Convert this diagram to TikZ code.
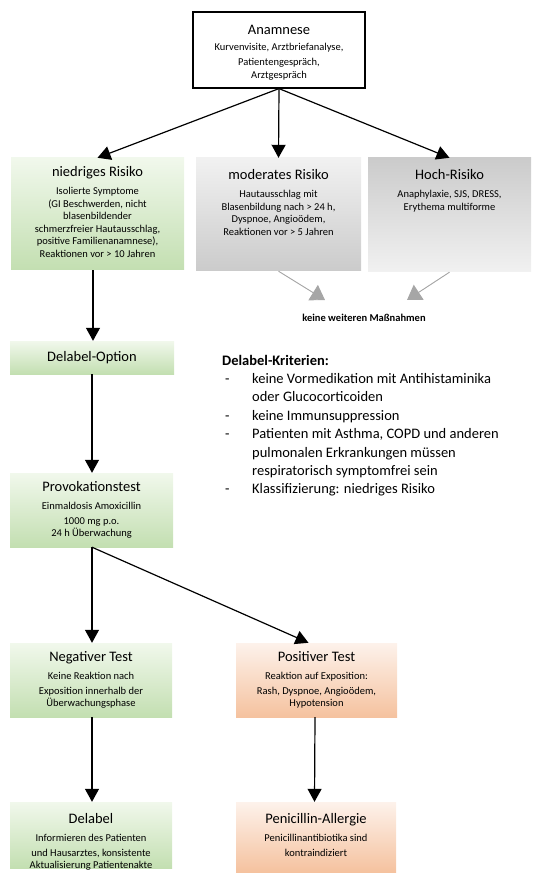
\documentclass[tikz,border=0pt]{standalone}
\usepackage{fontspec}
\setmainfont{Carlito}
\usetikzlibrary{arrows.meta}

\definecolor{gruenoben}{HTML}{F1F8EC}
\definecolor{gruenunten}{HTML}{C3DFB1}
\definecolor{grauhell}{HTML}{F1F1F1}
\definecolor{graudunkel}{HTML}{CBCBCB}
\definecolor{orangeoben}{HTML}{FDF2EB}
\definecolor{orangeunten}{HTML}{F5C29F}
\definecolor{pfeilgrau}{HTML}{A6A6A6}

\newcommand{\kopf}[1]{{\fontsize{14.5}{16}\selectfont #1}}

\tikzset{
  kasten/.style={rectangle, inner sep=0pt},
  gruen/.style={kasten, top color=gruenoben, bottom color=gruenunten},
  grau/.style={kasten, top color=grauhell, bottom color=graudunkel},
  grauum/.style={kasten, top color=graudunkel, bottom color=grauhell},
  orange/.style={kasten, top color=orangeoben, bottom color=orangeunten},
  inhalt/.style={anchor=north, align=center, inner sep=0pt, yshift=-8pt,
    font=\fontsize{10.5}{12.5}\selectfont},
  pfeil/.style={-{Triangle[width=14pt,length=13pt]}, line width=1.2pt},
  grauerpfeil/.style={-{Triangle[width=18pt,length=14pt]}, line width=0.9pt, draw=pfeilgrau, fill=pfeilgrau}
}

\begin{document}
\begin{tikzpicture}[x=1pt, y=-1pt]
  \useasboundingbox (0,0) rectangle (532,874);

  % Anamnese
  \node[kasten, draw, line width=1.2pt, fill=white, minimum width=172pt, minimum height=76pt] (anam) at (279,50) {};
  \node[inhalt, yshift=-6pt] (anamtxt) at (anam.north)
    {\kopf{Anamnese}\\[3pt] Kurvenvisite, Arztbriefanalyse,\\[3pt] Patientengespräch,\\ Arztgespräch};

  % Risikostufen
  \node[gruen, minimum width=173pt, minimum height=112pt] (niedrig) at (97.5,214) {};
  \node[inhalt] (niedrigtxt) at (niedrig.north)
    {\kopf{niedriges Risiko}\\[6pt] Isolierte Symptome\\ (GI Beschwerden, nicht\\ blasenbildender\\
     schmerzfreier Hautausschlag,\\ positive Familienanamnese),\\ Reaktionen vor > 10 Jahren};
  \node[grau, minimum width=165pt, minimum height=113pt] (moderat) at (278.5,214.5) {};
  \node[inhalt, yshift=-3pt] (moderattxt) at (moderat.north)
    {\kopf{moderates Risiko}\\[6pt] Hautausschlag mit\\ Blasenbildung nach > 24 h,\\ Dyspnoe, Angioödem,\\ Reaktionen vor > 5 Jahren};
  \node[grauum, minimum width=163pt, minimum height=114pt] (hoch) at (449.5,215) {};
  \node[inhalt, yshift=-3pt] (hochtxt) at (hoch.north)
    {\kopf{Hoch-Risiko}\\[6pt] Anaphylaxie, SJS, DRESS,\\ Erythema multiforme};

  \draw[pfeil] (anam.south) -- (niedrig.north);
  \draw[pfeil] (anam.south) -- (moderat.north);
  \draw[pfeil] (anam.south) -- (hoch.north);

  % keine weiteren Massnahmen
  \node[font=\bfseries\fontsize{10.5}{12}\selectfont, inner sep=0pt] (keine) at (364,318) {keine weiteren Maßnahmen};
  \coordinate (keinel) at (325,300);
  \coordinate (keiner) at (407,300);
  \draw[grauerpfeil] (moderat.south) -- (keinel);
  \draw[grauerpfeil] (hoch.south) -- (keiner);

  % Kriterien
  \node[anchor=north west, inner sep=0pt, align=left, font=\fontsize{14.5}{18.4}\selectfont] (kriterien) at (222,352)
    {\begin{tabular}{@{\hspace{3pt}}p{27pt}@{}l@{}}
      \multicolumn{2}{@{}l}{\bfseries Delabel-Kriterien:}\\
      - & keine Vormedikation mit Antihistaminika\\
        & oder Glucocorticoiden\\
      - & keine Immunsuppression\\
      - & Patienten mit Asthma, COPD und anderen\\
        & pulmonalen Erkrankungen müssen\\
        & respiratorisch symptomfrei sein\\
      - & Klassifizierung: niedriges Risiko
    \end{tabular}};

  % Ablauf
  \node[gruen, minimum width=164pt, minimum height=33pt] (delopt) at (92,357.5) {\kopf{Delabel-Option}};
  \node[gruen, minimum width=163pt, minimum height=74pt] (provo) at (91.5,510) {};
  \node[inhalt] (provotxt) at (provo.north)
    {\kopf{Provokationstest}\\[6pt] Einmaldosis Amoxicillin\\[2pt] 1000 mg p.o.\\ 24 h Überwachung};

  \draw[pfeil] (delopt.north |- niedrig.south) ++(1,0) -- ([xshift=1pt]delopt.north);
  \draw[pfeil] (delopt.south) -- (provo.north -| delopt.south);

  \node[gruen, minimum width=162pt, minimum height=74pt] (neg) at (91,680) {};
  \node[inhalt] (negtxt) at (neg.north)
    {\kopf{Negativer Test}\\[6pt] Keine Reaktion nach\\[2pt] Exposition innerhalb der\\ Überwachungsphase};
  \node[orange, minimum width=161pt, minimum height=74pt] (pos) at (316.5,680) {};
  \node[inhalt] (postxt) at (pos.north)
    {\kopf{Positiver Test}\\[6pt] Reaktion auf Exposition:\\[2pt] Rash, Dyspnoe, Angioödem,\\ Hypotension};

  \draw[pfeil] (provo.south -| delopt.south) -- (neg.north -| delopt.south);
  \draw[pfeil] (provo.south -| delopt.south) -- ([xshift=-8pt]pos.north);

  \node[gruen, minimum width=162pt, minimum height=66pt] (delabel) at (91,835) {};
  \node[inhalt, yshift=-3pt] (delabeltxt) at (delabel.north)
    {\kopf{Delabel}\\[6pt] Informieren des Patienten\\[2pt] und Hausarztes, konsistente\\ Aktualisierung Patientenakte};
  \node[orange, minimum width=160pt, minimum height=70pt] (allergie) at (316,837) {};
  \node[inhalt, yshift=-3pt] (allergietxt) at (allergie.north)
    {\kopf{Penicillin-Allergie}\\[6pt] Penicillinantibiotika sind\\[2pt] kontraindiziert};

  \draw[pfeil] (neg.south -| delopt.south) -- (delabel.north -| delopt.south);
  \draw[pfeil] ([xshift=-1.5pt]pos.south) -- ([xshift=-1.5pt]allergie.north);
\end{tikzpicture}
\end{document}
